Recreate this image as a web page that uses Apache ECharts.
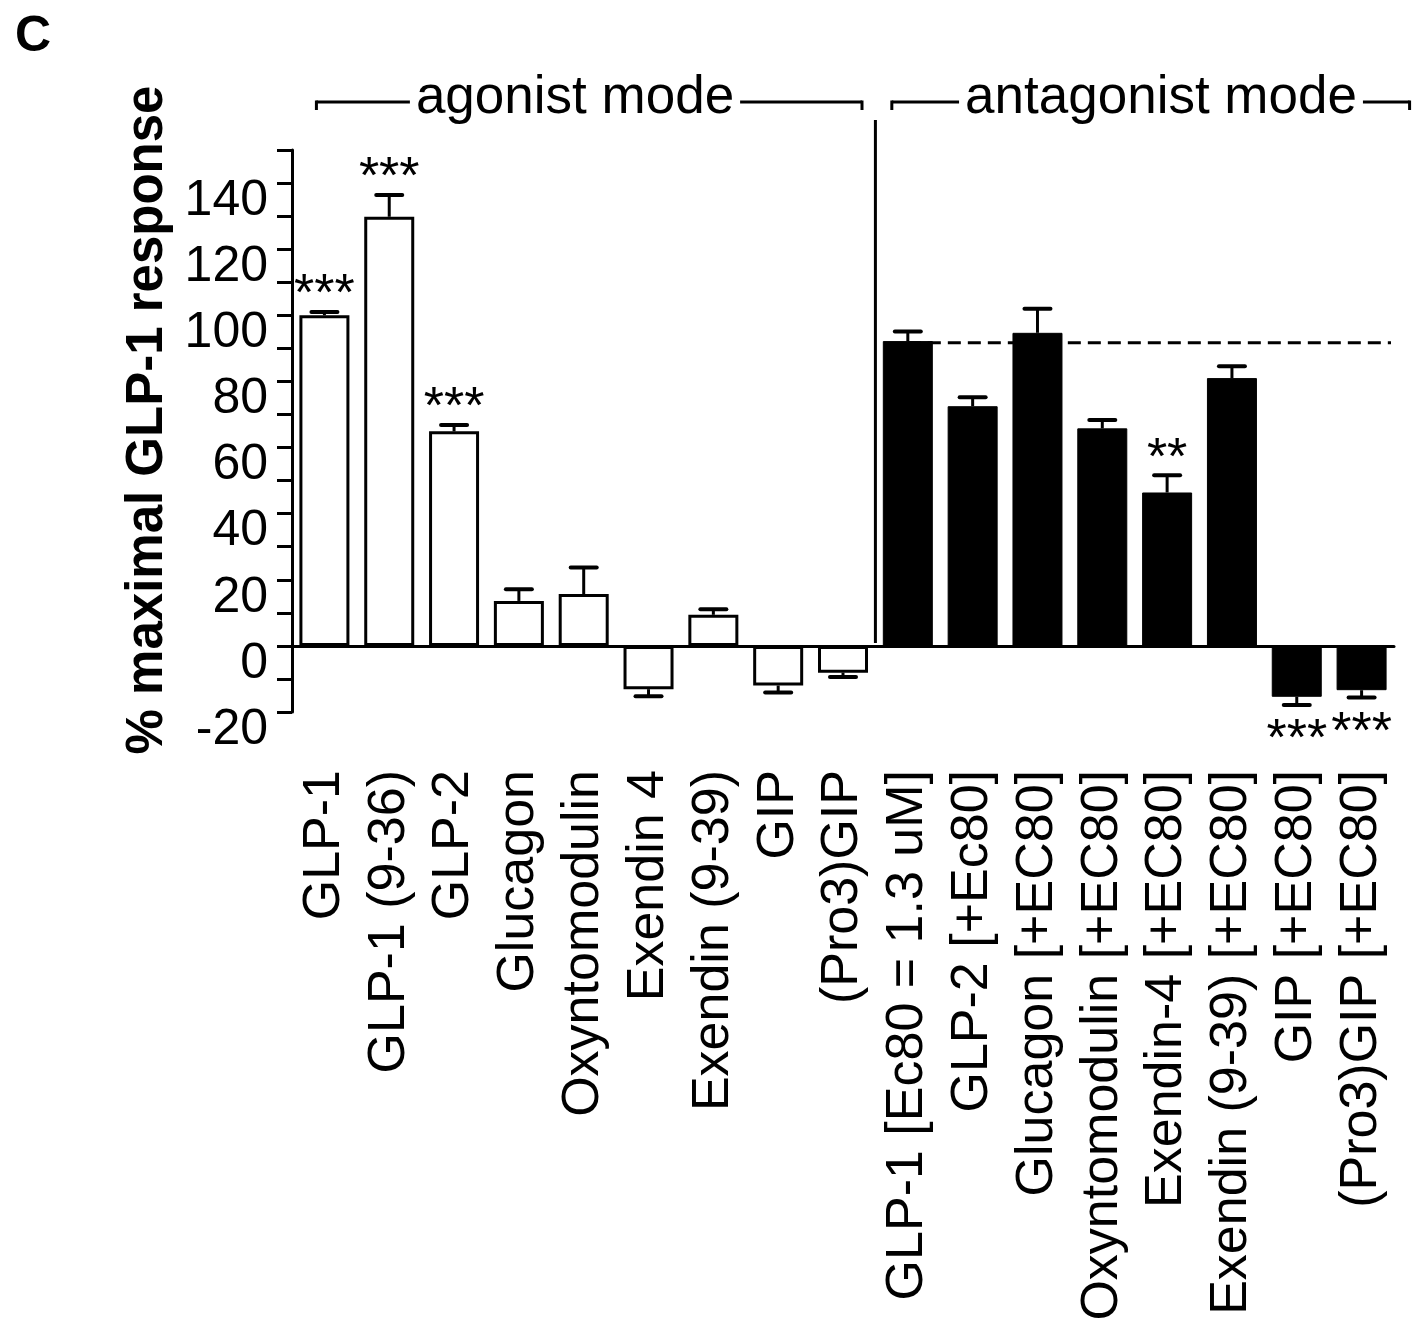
<!DOCTYPE html>
<html><head><meta charset="utf-8">
<script src="https://cdn.jsdelivr.net/npm/echarts@6/dist/echarts.min.js"></script>
<style>html,body{margin:0;padding:0;background:#fff}#c{width:1421px;height:1326px}</style>
</head><body><div id="c"></div>
<script>
var categories = [
  'GLP-1', 'GLP-1 (9-36)', 'GLP-2', 'Glucagon', 'Oxyntomodulin', 'Exendin 4', 'Exendin (9-39)', 'GIP', '(Pro3)GIP',
  'GLP-1 [Ec80 = 1.3 uM]', 'GLP-2 [+Ec80]', 'Glucagon [+EC80]', 'Oxyntomodulin [+EC80]', 'Exendin-4 [+EC80]',
  'Exendin (9-39) [+EC80]', 'GIP [+EC80]', '(Pro3)GIP [+EC80]'
];
var agonistValues = [100, 129.8, 64.9, 13.6, 15.7, -13.1, 9.4, -12.0, -8.1];
var agonistErrors = [1.0, 6.6, 1.9, 3.5, 8.0, 2.1, 1.7, 2.1, 1.3];
var antagonistValues = [92.2, 72.5, 94.7, 65.8, 46.4, 81.0, -15.4, -13.4];
var antagonistErrors = [2.9, 2.7, 7.3, 2.5, 5.2, 3.6, 2.5, 2.2];
var significance = ['***', '***', '***', '', '', '', '', '', '', '', '', '', '', '**', '', '***', '***'];
var referenceLevel = 91.7;
var yTickLabels = [-20, 0, 20, 40, 60, 80, 100, 120, 140];
var groupLabels = ['agonist mode', 'antagonist mode'];

var FONT = '"Liberation Sans", Arial, sans-serif';
var nAg = agonistValues.length;

var agSeries = [], antSeries = [], errData = [];
for (var i = 0; i < categories.length; i++) {
  if (i < nAg) {
    agSeries.push(agonistValues[i]); antSeries.push('-');
    errData.push([i, agonistValues[i], agonistErrors[i]]);
  } else {
    agSeries.push('-'); antSeries.push(antagonistValues[i - nAg]);
    errData.push([i, antagonistValues[i - nAg], antagonistErrors[i - nAg]]);
  }
}

var chart = echarts.init(document.getElementById('c'), null, {renderer: 'canvas'});
var option = {
  animation: false,
  backgroundColor: '#fff',
  grid: {left: 292, right: 27, top: 150, bottom: 614, containLabel: false, outerBoundsMode: 'none'},
  xAxis: {
    type: 'category',
    data: categories,
    axisLine: {onZero: true, lineStyle: {color: '#000', width: 3}},
    axisTick: {show: false},
    axisLabel: {interval: 0, rotate: 90, margin: 58, fontSize: 52, color: '#000', fontFamily: FONT}
  },
  yAxis: {
    type: 'value', min: -20, max: 150, interval: 10,
    splitLine: {show: false},
    axisLine: {show: true, lineStyle: {color: '#000', width: 3}},
    axisTick: {show: true, length: 15, lineStyle: {color: '#000', width: 3}},
    axisLabel: {
      margin: 24, fontSize: 50, color: '#000', fontFamily: FONT, verticalAlign: 'top', lineHeight: 36,
      formatter: function (v) { return yTickLabels.indexOf(v) >= 0 ? String(v) : ''; }
    },
    name: '% maximal GLP-1 response',
    nameLocation: 'middle', nameRotate: 90, nameGap: 105,
    nameTextStyle: {fontSize: 51, fontWeight: 'bold', color: '#000', fontFamily: FONT, padding: [0, 0, 0, 22]}
  },
  series: [
    {
      name: 'agonist', type: 'bar', data: agSeries, barWidth: 50, barGap: '-100%',
      itemStyle: {color: '#fff', borderColor: '#000', borderWidth: 3}
    },
    {
      name: 'antagonist', type: 'bar', data: antSeries, barWidth: 50, barGap: '-100%',
      itemStyle: {color: '#000', borderColor: '#000', borderWidth: 1}
    },
    {
      name: 'errors', type: 'custom', z: 5, data: errData,
      renderItem: function (params, api) {
        var x = api.value(0), v = api.value(1), e = api.value(2);
        var dir = v >= 0 ? 1 : -1;
        var p0 = api.coord([x, v]);
        var p1 = api.coord([x, v + dir * e]);
        var half = 13;
        var children = [
          {type: 'line', shape: {x1: p0[0], y1: p0[1], x2: p1[0], y2: p1[1]}, style: {stroke: '#000', lineWidth: 3}},
          {type: 'line', shape: {x1: p1[0] - half, y1: p1[1], x2: p1[0] + half, y2: p1[1]}, style: {stroke: '#000', lineWidth: 4, lineCap: 'round'}}
        ];
        var s = significance[params.dataIndex];
        if (s) {
          children.push({
            type: 'text',
            style: {
              text: s, x: p1[0], y: dir > 0 ? p1[1] - 16 : p1[1] + 36,
              align: 'center', verticalAlign: 'middle', fontSize: 52, fontFamily: FONT, fill: '#000'
            }
          });
        }
        return {type: 'group', children: children};
      }
    },
    {
      name: 'reference', type: 'custom', z: 4, data: [[nAg, categories.length - 1, referenceLevel]],
      renderItem: function (params, api) {
        var a = api.coord([api.value(0), api.value(2)]);
        var b = api.coord([api.value(1), api.value(2)]);
        var bw = api.size([1, 0])[0];
        return {
          type: 'line',
          shape: {x1: a[0], y1: a[1], x2: b[0] + bw / 2 - 3, y2: b[1]},
          style: {stroke: '#000', lineWidth: 3, lineDash: [13, 7]}
        };
      }
    }
  ]
};
chart.setOption(option);

function px(i, v) { return chart.convertToPixel({gridIndex: 0}, [i, v]); }
var c0 = px(0, 0)[0], c8 = px(nAg - 1, 0)[0], c9 = px(nAg, 0)[0], cLast = px(categories.length - 1, 0)[0];
var zeroY = px(0, 0)[1];
var topY = px(0, 150)[1];
var lineY = topY - 48;
var divX = (c8 + c9) / 2;
var aL = c0 - 8, aR = c8 + 19, bL = c9 - 16, bR = cLast + 48;
function seg(x1, y1, x2, y2) {
  return {type: 'line', shape: {x1: x1, y1: y1, x2: x2, y2: y2}, style: {stroke: '#000', lineWidth: 3}, z: 10};
}
chart.setOption({
  graphic: [
    {type: 'text', left: 15, top: 12, style: {text: 'C', fontSize: 50, fontWeight: 'bold', fontFamily: FONT, fill: '#000'}},
    seg(aL, lineY, aR, lineY), seg(aL, lineY - 1.5, aL, lineY + 8), seg(aR, lineY - 1.5, aR, lineY + 8),
    seg(bL, lineY, bR, lineY), seg(bL, lineY - 1.5, bL, lineY + 8), seg(bR, lineY - 1.5, bR, lineY + 8),
    {type: 'text', z: 11, x: 575, y: lineY - 4, style: {text: groupLabels[0], align: 'center', verticalAlign: 'middle', fontSize: 53, fontFamily: FONT, fill: '#000', backgroundColor: '#fff', padding: [0, 6]}},
    {type: 'text', z: 11, x: 1161, y: lineY - 4, style: {text: groupLabels[1], align: 'center', verticalAlign: 'middle', fontSize: 53, fontFamily: FONT, fill: '#000', backgroundColor: '#fff', padding: [0, 6]}},
    seg(divX, topY - 30, divX, zeroY - 3)
  ]
});
</script>
</body></html>
